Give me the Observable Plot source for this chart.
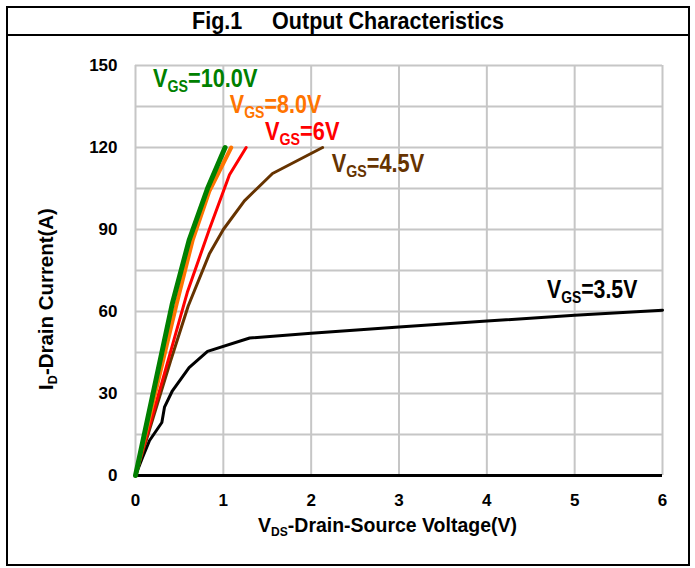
<!DOCTYPE html>
<html><head><meta charset="utf-8">
<script src="https://cdn.jsdelivr.net/npm/d3@7"></script>
<script src="https://cdn.jsdelivr.net/npm/@observablehq/plot@0.6"></script>
<style>
html,body{margin:0;padding:0;background:#fff;}
#frame{position:absolute;left:6px;top:6px;width:684px;height:560px;border:2px solid #000;box-sizing:border-box;
  font-family:"Liberation Sans Narrow","Arial Narrow","Liberation Sans",sans-serif;font-weight:bold;color:#000;}
#title{height:26px;border-bottom:2px solid #000;text-align:center;font-size:24px;line-height:26px;white-space:pre;overflow:hidden;}
#title span{display:inline-block;transform-origin:50% 50%;}
#chart svg{display:block;}
</style></head><body>
<div id="frame"><div id="title"><span id="ttl">Fig.1     Output Characteristics</span></div><div id="chart"></div></div>
<script>
// ---- data ----
const xTicks = [0, 1, 2, 3, 4, 5, 6];
const yTicks = [0, 30, 60, 90, 120, 150];
const gridX = [0, 1, 2, 3, 4, 5, 6];
const gridY = [0, 15, 30, 45, 60, 75, 90, 105, 120, 135, 150];

const seriesNames = ["3.5V", "4.5V", "6V", "8.0V", "10.0V"];
const seriesColors = ["#000000", "#663300", "#ff0000", "#ff7400", "#008000"];
const seriesWidths = [3, 3, 3, 4, 5];

const vds35 = [0, 0.08, 0.16, 0.30, 0.33, 0.42, 0.61, 0.82, 1.30, 2.0, 3.0, 4.0, 5.0, 6.0];
const id35  = [0, 6.6, 12.8, 19.4, 25.0, 31.0, 39.5, 45.4, 50.3, 52.0, 54.3, 56.5, 58.6, 60.5];
const vds45 = [0, 0.2, 0.4, 0.6, 0.84, 1.0, 1.24, 1.56, 2.13];
const id45  = [0, 21, 42, 62, 81, 90, 100.5, 110.5, 120];
const vds6  = [0, 0.3, 0.59, 0.84, 1.07, 1.26];
const id6   = [0, 34, 67, 90, 110, 120];
const vds8  = [0, 0.47, 0.65, 0.84, 1.09];
const id8   = [0, 63, 86, 104, 120];
const vds10 = [0, 0.42, 0.61, 0.82, 1.02];
const id10  = [0, 63, 86, 105, 120];

const labelNames = ["10.0V", "8.0V", "6V", "4.5V", "3.5V"];
const labelColors = ["#008000", "#ff7400", "#ff0000", "#663300", "#000000"];
const labelX = [0.205, 1.08, 1.48, 2.24, 4.69];
const labelY = [142, 132.5, 122.6, 110.9, 64.8];

// ---- layout (pixel widths of the condensed texts) ----
const labelWidths = [105, 92, 75, 93, 91];
const xTitleWidth = 259, yTitleWidth = 182, titleWidth = 312;

// ---- build ----
const curves = [[vds35, id35], [vds45, id45], [vds6, id6], [vds8, id8], [vds10, id10]];
const rows = curves.map(([vs, is], k) => vs.map((v, j) => ({s: seriesNames[k], v, i: is[j]})));

const FONT = '"Liberation Sans Narrow","Arial Narrow","Liberation Sans",sans-serif';

const plot = Plot.plot({
  width: 680, height: 528,
  marginLeft: 127, marginRight: 26, marginTop: 29, marginBottom: 89,
  x: {domain: [0, 6], ticks: xTicks, tickSize: 0, tickPadding: 18, label: null, tickFormat: d => String(d)},
  y: {domain: [0, 150], ticks: yTicks, tickSize: 0, tickPadding: 18, label: null, tickFormat: d => String(d)},
  style: {fontSize: "17px", fontWeight: "bold", fontFamily: FONT, color: "#000", background: "transparent", overflow: "visible"},
  marks: [
    Plot.ruleX(gridX, {stroke: "#c6c6c6", strokeWidth: 2, strokeOpacity: 1}),
    Plot.ruleY(gridY, {stroke: "#c6c6c6", strokeWidth: 2, strokeOpacity: 1}),
    Plot.ruleY([0], {stroke: "#000", strokeWidth: 3}),
    ...rows.map((r, k) => Plot.line(r, {x: "v", y: "i", stroke: seriesColors[k], strokeWidth: seriesWidths[k],
      strokeLinejoin: "round", strokeLinecap: "round"}))
  ]
});
document.getElementById("chart").appendChild(plot);

const svg = d3.select(plot);
const sx = plot.scale("x"), sy = plot.scale("y");
const X = d3.scaleLinear().domain(sx.domain).range(sx.range);
const Y = d3.scaleLinear().domain(sy.domain).range(sy.range);

// text with a subscript, condensed horizontally to a target width
function subText(parent, x, y, main, sub, rest, size, color, anchor, width, rotate) {
  const g = parent.append("g");
  const t = g.append("text").attr("font-family", FONT).attr("font-weight", "bold")
    .attr("font-size", size).attr("fill", color).attr("text-anchor", anchor);
  t.append("tspan").text(main);
  const shift = Math.round(size * 0.2);
  t.append("tspan").attr("font-size", Math.round(size * 0.64)).attr("dy", shift).text(sub);
  t.append("tspan").attr("dy", -shift).text(rest);
  const w = t.node().getBBox().width;
  const k = w > 0 ? Math.min(1, width / w) : 1;
  g.attr("transform", `translate(${x},${y})${rotate ? ` rotate(${rotate})` : ""} scale(${k},1)`);
  return g;
}

const lg = svg.append("g").attr("class", "curve-labels");
labelNames.forEach((n, k) => {
  subText(lg, X(labelX[k]), Y(labelY[k]), "V", "GS", "=" + n, 26, labelColors[k], "start", labelWidths[k]);
});

const ag = svg.append("g").attr("class", "axis-titles");
subText(ag, 379.5, 496, "V", "DS", "-Drain-Source Voltage(V)", 21, "#000", "middle", xTitleWidth);
subText(ag, 45, 263, "I", "D", "-Drain Current(A)", 21, "#000", "middle", yTitleWidth, -90);

// condense the title
const ttl = document.getElementById("ttl");
const tw = ttl.getBoundingClientRect().width;
if (tw > titleWidth) ttl.style.transform = `scaleX(${titleWidth / tw})`;
</script>
</body></html>
